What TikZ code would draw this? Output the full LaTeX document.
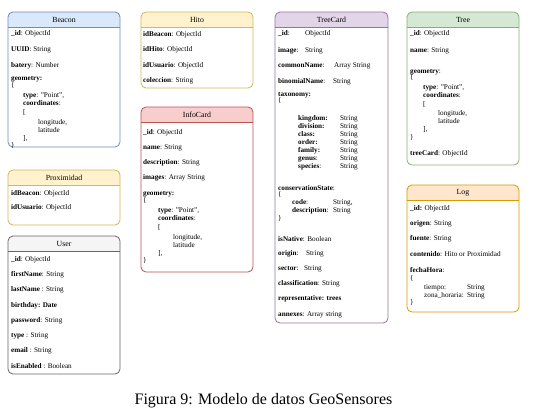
\documentclass[tikz,border=0pt]{standalone}
\usepackage{fontspec}
\setmainfont{Liberation Serif}
\definecolor{bluef}{HTML}{DAE8FC}\definecolor{blued}{HTML}{6C8EBF}
\definecolor{yelf}{HTML}{FFF2CC}\definecolor{yeld}{HTML}{D6B656}
\definecolor{redf}{HTML}{F8CECC}\definecolor{redd}{HTML}{B85450}
\definecolor{purf}{HTML}{E1D5E7}\definecolor{purd}{HTML}{9673A6}
\definecolor{grnf}{HTML}{D5E8D4}\definecolor{grnd}{HTML}{82B366}
\definecolor{orf}{HTML}{FFE6CC}\definecolor{ord}{HTML}{D79B00}
\definecolor{greyf}{HTML}{F5F5F5}\definecolor{greyd}{HTML}{666666}
\tikzset{
  fld/.style={anchor=base west, inner sep=0pt, font=\fontsize{7.2}{8}\selectfont, text=black},
  ttl/.style={inner sep=0pt, font=\fontsize{7.8}{9}\selectfont, text=black},
  boxline/.style={line width=0.8pt},
}
\newcommand\fl[4]{\node[fld] (#1) at (#2,#3+2) {#4};}
\newcommand\ubox[8]{%
  \fill[white, rounded corners=5pt] (#2,#3) rectangle (#4,#5);
  \begin{scope}
    \clip (#2,#3) rectangle (#4,#3+15);
    \fill[#6, rounded corners=5pt] (#2,#3) rectangle (#4,#5);
  \end{scope}
  \draw[#7, boxline] (#2,#3+15) -- (#4,#3+15);
  \draw[#7, boxline, rounded corners=5pt] (#2,#3) rectangle (#4,#5);
  \node[ttl] (#1) at ({(#2+#4)/2},#3+8) {#8};
}
\begin{document}
\begin{tikzpicture}[x=1pt,y=-1pt]
\fill[white] (0,0) rectangle (543,415);
\useasboundingbox (0,0) rectangle (543,415);

% Beacon
\ubox{beacon}{8}{12}{120}{147}{bluef}{blued}{Beacon}
\fl{b1}{11}{33}{\textbf{\_id}: ObjectId}
\fl{b2}{11}{49}{\textbf{UUID}: String}
\fl{b3}{11}{65}{\textbf{batery}: Number}
\fl{b4}{11}{78}{\textbf{geometry:}}
\fl{b5}{11}{85}{\{}
\fl{b6}{23}{95}{\textbf{type}: "Point",}
\fl{b7}{23}{103}{\textbf{coordinates}:}
\fl{b8}{23}{112}{[}
\fl{b9}{38}{122}{longitude,}
\fl{b10}{38}{130}{latitude}
\fl{b11}{23}{138}{],}
\fl{b12}{11}{145}{\}}

% Proximidad
\ubox{prox}{8}{170}{120}{225}{yelf}{yeld}{Proximidad}
\fl{p1}{11}{193}{\textbf{idBeacon}: ObjectId}
\fl{p2}{11}{207}{\textbf{idUsuario}: ObjectId}

% User
\ubox{user}{8}{236}{120}{374}{greyf}{greyd}{User}
\fl{u1}{11}{259}{\textbf{\_id}: ObjectId}
\fl{u2}{11}{274}{\textbf{firstName}: String}
\fl{u3}{11}{289}{\textbf{lastName} : String}
\fl{u4}{11}{305}{\textbf{birthday: Date}}
\fl{u5}{11}{320}{\textbf{password}: String}
\fl{u6}{11}{335}{\textbf{type} : String}
\fl{u7}{11}{350}{\textbf{email} : String}
\fl{u8}{11}{366}{\textbf{isEnabled} : Boolean}

% Hito
\ubox{hito}{141}{12}{253}{88}{yelf}{yeld}{Hito}
\fl{h1}{143}{34}{\textbf{idBeacon}: ObjectId}
\fl{h2}{143}{49}{\textbf{idHito}: ObjectId}
\fl{h3}{143}{65}{\textbf{idUsuario}: ObjectId}
\fl{h4}{143}{80}{\textbf{coleccion}: String}

% InfoCard
\ubox{info}{141}{107}{253}{272}{redf}{redd}{InfoCard}
\fl{i1}{143}{132}{\textbf{\_id}: ObjectId}
\fl{i2}{143}{147}{\textbf{name}: String}
\fl{i3}{143}{162}{\textbf{description}: String}
\fl{i4}{143}{177}{\textbf{images}: Array String}
\fl{i5}{143}{193}{\textbf{geometry:}}
\fl{i6}{143}{200}{\{}
\fl{i7}{158}{210}{\textbf{type}: "Point",}
\fl{i8}{158}{218}{\textbf{coordinates}:}
\fl{i9}{158}{227}{[}
\fl{i10}{173}{237}{longitude,}
\fl{i11}{173}{245}{latitude}
\fl{i12}{158}{253}{],}
\fl{i13}{143}{260}{\}}

% TreeCard
\ubox{treecard}{275}{12}{388}{323}{purf}{purd}{TreeCard}
\fl{t1}{278}{33}{\textbf{\_id}:}
\fl{t1v}{305}{33}{ObjectId}
\fl{t2}{278}{50}{\textbf{image}:}
\fl{t2v}{305}{50}{String}
\fl{t3}{278}{65}{\textbf{commonName}:}
\fl{t3v}{334}{65}{Array String}
\fl{t4}{278}{81}{\textbf{binomialName}:}
\fl{t4v}{333}{81}{String}
\fl{t5}{278}{94}{\textbf{taxonomy:}}
\fl{t6}{278}{100}{\{}
\fl{tk1}{298}{118}{\textbf{kingdom:}}
\fl{tk2}{298}{126}{\textbf{division:}}
\fl{tk3}{298}{134}{\textbf{class:}}
\fl{tk4}{298}{142}{\textbf{order:}}
\fl{tk5}{298}{150}{\textbf{family:}}
\fl{tk6}{298}{158}{\textbf{genus}:}
\fl{tk7}{298}{166}{\textbf{species}:}
\fl{tv1}{340}{118}{String}
\fl{tv2}{340}{126}{String}
\fl{tv3}{340}{134}{String}
\fl{tv4}{340}{142}{String}
\fl{tv5}{340}{150}{String}
\fl{tv6}{340}{158}{String}
\fl{tv7}{340}{166}{String}
\fl{t7}{278}{188}{\textbf{conservationState}:}
\fl{t8}{278}{194}{\{}
\fl{tc1}{292}{202}{\textbf{code}:}
\fl{tc1v}{333}{202}{String,}
\fl{tc2}{292}{210}{\textbf{description}:}
\fl{tc2v}{333}{210}{String}
\fl{t9}{278}{218}{\}}
\fl{t10}{278}{239}{\textbf{isNative}: Boolean}
\fl{t11}{278}{253}{\textbf{origin}:}
\fl{t11v}{306}{253}{String}
\fl{t12}{278}{268}{\textbf{sector}:}
\fl{t12v}{304}{268}{String}
\fl{t13}{278}{283}{\textbf{classification}: String}
\fl{t14}{278}{298}{\textbf{representative: trees}}
\fl{t15}{278}{314}{\textbf{annexes}: Array string}

% Tree
\ubox{tree}{407}{12}{519}{165}{grnf}{grnd}{Tree}
\fl{r1}{410}{33}{\textbf{\_id}: ObjectId}
\fl{r2}{410}{50}{\textbf{name}: String}
\fl{r3}{410}{71}{\textbf{geometry}:}
\fl{r4}{410}{77}{\{}
\fl{r5}{423}{87}{\textbf{type}: "Point",}
\fl{r6}{423}{95}{\textbf{coordinates}:}
\fl{r7}{423}{104}{[}
\fl{r8}{438}{113}{longitude,}
\fl{r9}{438}{121}{latitude}
\fl{r10}{423}{129}{],}
\fl{r11}{410}{137}{\}}
\fl{r12}{410}{153}{\textbf{treeCard}: ObjectId}

% Log
\ubox{log}{407}{185}{519}{312}{orf}{ord}{Log}
\fl{l1}{410}{208}{\textbf{\_id:} ObjectId}
\fl{l2}{410}{223}{\textbf{origen}: String}
\fl{l3}{410}{238}{\textbf{fuente}: String}
\fl{l4}{410}{254}{\textbf{contenido}: Hito or Proximidad}
\fl{l5}{410}{270}{\textbf{fechaHora}:}
\fl{l6}{410}{278}{\{}
\fl{l7}{424}{287}{tiempo:}
\fl{l7v}{467}{287}{String}
\fl{l8}{424}{295}{zona\_horaria:}
\fl{l8v}{467}{295}{String}
\fl{l9}{410}{302}{\}}

% Caption
\node[anchor=base, inner sep=0pt, font=\fontsize{16}{18}\selectfont] (cap) at (263.5,404) {Figura 9: Modelo de datos GeoSensores};
\end{tikzpicture}
\end{document}
